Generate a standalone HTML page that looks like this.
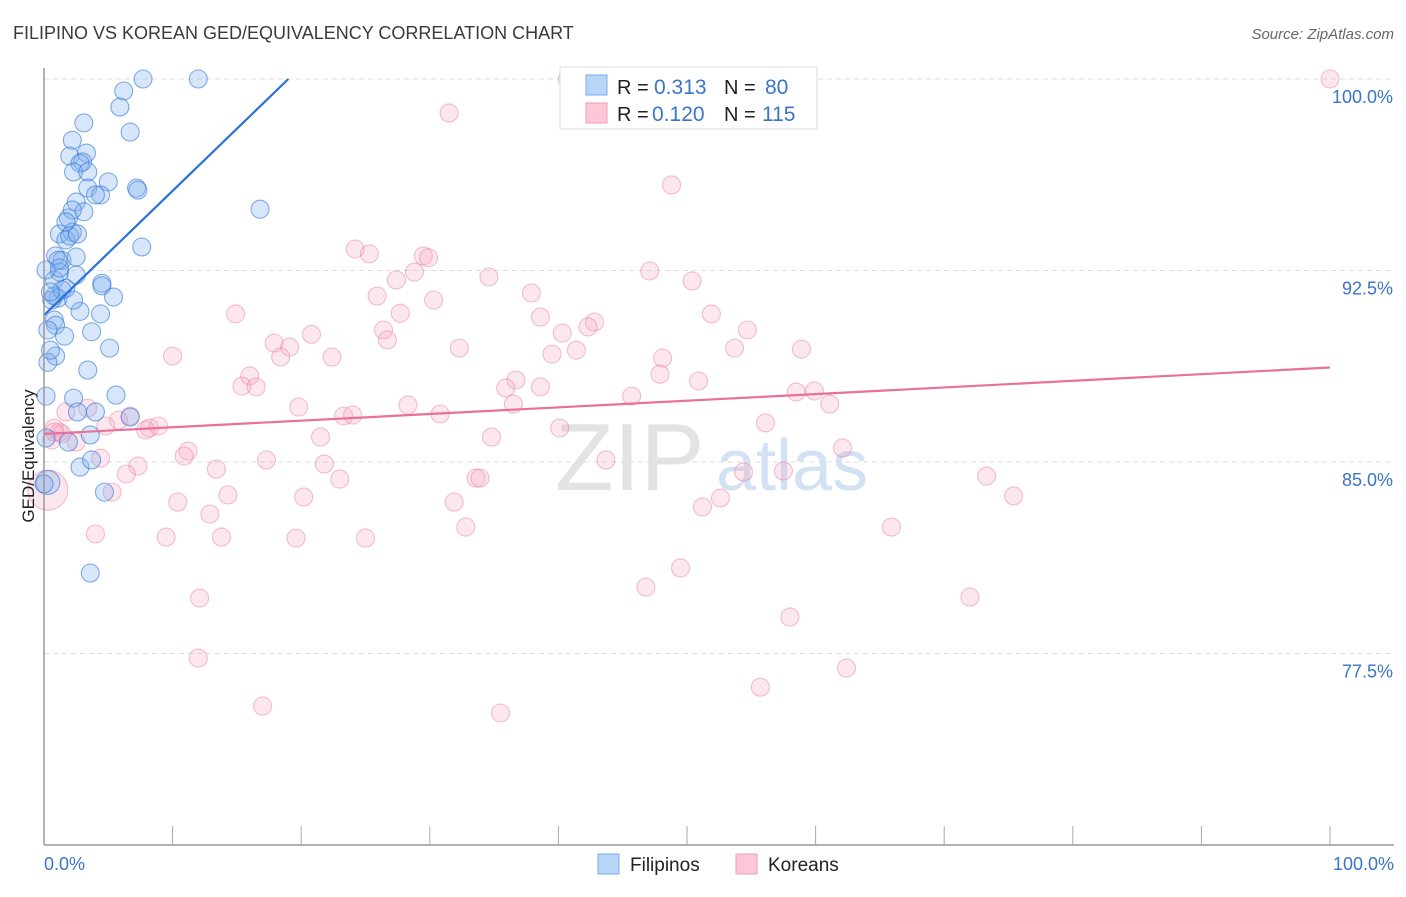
<!DOCTYPE html>
<html><head><meta charset="utf-8"><style>
body{margin:0;background:#fff;font-family:"Liberation Sans",sans-serif;}
svg text{font-family:"Liberation Sans",sans-serif;}
</style></head><body>
<svg id="chart" width="1406" height="892" xmlns="http://www.w3.org/2000/svg">
<text x="13" y="39" font-size="18" fill="#3a3a3a">FILIPINO VS KOREAN GED/EQUIVALENCY CORRELATION CHART</text>
<text x="1394" y="39" font-size="15" fill="#666" text-anchor="end" font-style="italic">Source: ZipAtlas.com</text>
<g><text x="555" y="490" font-size="96" fill="#ddd" font-family="Liberation Serif" opacity="0.8">ZIP</text><text x="716" y="490" font-size="72" fill="#c8dcf0" opacity="0.8">atlas</text></g>
<g id="grid"></g><g id="marks"></g>
<line x1="44" y1="68" x2="44" y2="845" stroke="#999" stroke-width="1.5"/>
<line x1="44" y1="845" x2="1394" y2="845" stroke="#999" stroke-width="1.5"/>
<text transform="translate(34,456) rotate(-90)" font-size="17" fill="#222" text-anchor="middle">GED/Equivalency</text>
<text x="44" y="870" font-size="18" fill="#3a74c9">0.0%</text>
<text x="1394" y="870" font-size="18" fill="#3a74c9" text-anchor="end">100.0%</text>
<g>
<rect x="560" y="67" width="257" height="62" fill="#fff" stroke="#ddd"/>
<rect x="586" y="75" width="21" height="20" fill="#b8d4f6" stroke="#7aaaf0"/>
<rect x="586" y="103" width="21" height="20" fill="#fcc8d8" stroke="#f09ab5"/>
<text x="617" y="94" font-size="20" fill="#222">R =</text>
<text x="654" y="94" font-size="21" fill="#3a74c9">0.313</text>
<text x="724" y="94" font-size="20" fill="#222">N =</text>
<text x="765" y="94" font-size="21" fill="#3a74c9">80</text>
<text x="617" y="121" font-size="20" fill="#222">R =</text>
<text x="652" y="121" font-size="21" fill="#3a74c9">0.120</text>
<text x="724" y="121" font-size="20" fill="#222">N =</text>
<text x="762" y="121" font-size="21" fill="#3a74c9">115</text>
</g>
<g>
<rect x="598" y="854" width="21" height="20" fill="#b8d4f6" stroke="#7aaaf0"/>
<text x="630" y="871" font-size="19" fill="#222">Filipinos</text>
<rect x="736" y="854" width="21" height="20" fill="#fcc8d8" stroke="#f09ab5"/>
<text x="768" y="871" font-size="19" fill="#222">Koreans</text>
</g>
</svg>
<script>
const yTicks=[100,92.5,85,77.5];
const yTickLabels=["100.0%","92.5%","85.0%","77.5%"];
const blueX=[7.7,12.0,6.2,5.9,6.7,3.1,2.2,2.0,3.3,3.0,2.8,2.3,3.4,5.0,3.4,4.4,4.0,7.2,7.3,2.5,3.1,1.9,2.2,16.8,1.2,2.2,1.7,2.0,2.6,7.6,0.9,1.4,2.5,1.2,2.5,0.8,1.7,0.8,1.1,4.5,4.5,5.4,2.8,4.4,0.8,0.9,3.7,1.6,0.3,5.1,0.9,0.3,3.4,0.16,2.3,5.6,2.6,4.0,6.7,0.16,1.9,3.6,2.8,3.7,4.7,0.3,0,3.6,1.2,0.6,0.5,1.4,2.3,1.7,1.1,0.16,0.5];
const blueY=[100,100,99.53,98.9,97.92,98.28,97.6,96.98,97.1,96.75,96.7,96.36,96.36,95.97,95.73,95.46,95.46,95.73,95.65,95.18,94.8,94.56,94.87,94.9,93.93,94.0,93.7,93.85,93.93,93.42,93.07,92.9,93.03,92.44,92.32,92.13,91.8,91.5,91.42,92.0,91.9,91.46,90.9,90.8,90.56,90.36,90.1,89.93,90.17,89.46,89.15,88.9,88.6,87.58,87.5,87.62,86.96,86.96,86.76,85.94,85.78,86.06,84.8,85.08,83.82,84.2,84.14,80.65,92.6,91.34,89.38,91.74,91.34,94.4,92.9,92.52,91.66];
const blueSize=[9,9,9,9,9,9,9,9,9,9,9,9,9,9,9,9,9,9,9,9,9,9,9,9,9,9,9,9,9,9,9,9,9,9,9,9,9,9,9,9,9,9,9,9,9,9,9,9,9,9,9,9,9,9,9,9,9,9,9,9,9,9,9,9,9,12,9,9,9,9,9,9,9,9,9,9,9];
const pinkX=[100,40.7,31.5,48.8,24.2,25.3,29.5,29.9,34.6,47.1,50.4,28.8,25.9,27.4,30.3,37.9,14.9,27.7,38.6,51.9,20.8,26.4,26.7,17.9,19.1,18.4,10.0,22.4,32.3,39.5,41.4,40.3,42.8,42.3,53.7,54.7,58.9,48.1,47.9,50.9,16.0,15.4,16.5,36.7,35.9,38.6,45.7,58.5,59.9,61.1,19.8,28.3,30.8,36.5,23.3,24.0,1.7,3.4,6.7,5.8,8.2,8.9,7.9,4.8,0.8,1.2,0.6,2.5,1.4,21.5,34.8,56.1,40.1,11.2,10.9,4.4,7.3,17.3,21.8,13.4,6.4,43.7,62.1,23.0,33.6,33.9,5.3,14.3,10.4,20.2,31.9,54.4,57.5,52.6,51.2,73.3,75.4,12.9,4.0,9.5,13.8,19.6,25.0,32.8,65.9,49.5,46.8,12.1,72.0,58.0,12.0,62.4,55.7,17.0,35.5,0.3,0.8];
const pinkY=[100,100,98.67,95.85,93.34,93.15,93.07,93.0,92.25,92.48,92.09,92.44,91.5,92.13,91.34,91.62,90.8,90.83,90.68,90.8,90.0,90.17,89.78,89.66,89.5,89.11,89.15,89.11,89.46,89.23,89.38,90.05,90.48,90.29,89.46,90.17,89.42,89.07,88.44,88.17,88.37,87.97,87.94,88.21,87.9,87.94,87.58,87.74,87.78,87.27,87.15,87.23,86.88,87.27,86.8,86.84,86.96,87.11,86.8,86.64,86.33,86.41,86.25,86.41,86.33,86.17,85.86,85.78,86.1,85.98,85.98,86.53,86.33,85.43,85.23,85.15,84.84,85.08,84.92,84.72,84.53,85.08,85.55,84.33,84.37,84.37,83.82,83.71,83.43,83.63,83.43,84.61,84.65,83.59,83.24,84.45,83.67,82.96,82.18,82.06,82.06,82.02,82.02,82.45,82.45,80.85,80.1,79.67,79.71,78.93,77.32,76.93,76.18,75.44,75.17,83.9,86.17];
const blueTrend=[0,90.75,19.0,100];
const pinkTrend=[0,86.1,100,88.7];
const X0=44,X1=1330,YT=79,YB=845,VMIN=70,VMAX=100;
const sx=v=>X0+(v/100)*(X1-X0);
const sy=v=>YB-(v-VMIN)/(VMAX-VMIN)*(YB-YT);
const NS="http://www.w3.org/2000/svg";
const grid=document.getElementById('grid'),marks=document.getElementById('marks');
yTicks.forEach((t,i)=>{
 const l=document.createElementNS(NS,'line');
 
 
 l.setAttribute('x1',44);l.setAttribute('x2',1394);l.setAttribute('y1',sy(t));l.setAttribute('y2',sy(t));
 l.setAttribute('stroke','#ddd');l.setAttribute('stroke-dasharray','5,4');grid.appendChild(l);
 const tx=document.createElementNS(NS,'text');
 
 
 tx.setAttribute('x',1393);tx.setAttribute('y',sy(t)+24);tx.setAttribute('text-anchor','end');
 tx.setAttribute('font-size','18');tx.setAttribute('fill','#3a74c9');tx.textContent=yTickLabels[i];grid.appendChild(tx);
});
for(let i=1;i<=10;i++){
 const l=document.createElementNS(NS,'line');
 
 
 const x=sx(i*10);l.setAttribute('x1',x);l.setAttribute('x2',x);l.setAttribute('y1',826);l.setAttribute('y2',845);
 l.setAttribute('stroke','#aaa');grid.appendChild(l);
}
function dots(xs,ys,ss,fill,stroke,name){
 xs.forEach((v,i)=>{
  const c=document.createElementNS(NS,'circle');
  
  
  c.setAttribute('cx',sx(v));c.setAttribute('cy',sy(ys[i]));c.setAttribute('r',ss?ss[i]:9);
  c.setAttribute('fill',fill);c.setAttribute('stroke',stroke);c.setAttribute('stroke-width','1.1');
  marks.appendChild(c);
 });
}
dots(pinkX,pinkY,pinkX.map((v,i)=>i==pinkX.length-2?20:9),'rgba(248,170,195,0.28)','rgba(232,130,165,0.5)','korean-point');
dots(blueX,blueY,blueSize,'rgba(130,178,238,0.32)','rgba(50,120,215,0.6)','filipino-point');
function trend(t,col,name){
 const l=document.createElementNS(NS,'line');
 
 
 l.setAttribute('x1',sx(t[0]));l.setAttribute('y1',sy(t[1]));l.setAttribute('x2',sx(t[2]));l.setAttribute('y2',sy(t[3]));
 l.setAttribute('stroke',col);l.setAttribute('stroke-width','2.2');marks.appendChild(l);
}
trend(blueTrend,'#2a72d8','filipino-trendline');
trend(pinkTrend,'#e8709a','korean-trendline');
</script>
</body></html>
